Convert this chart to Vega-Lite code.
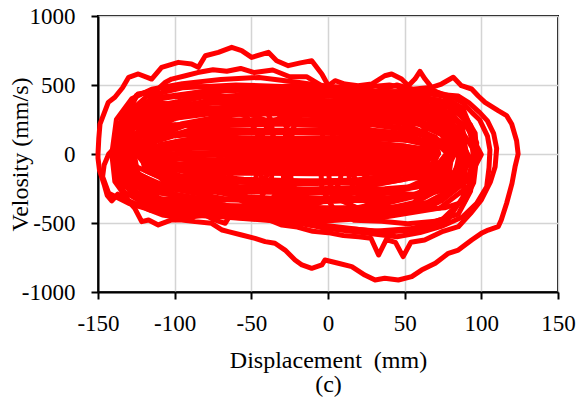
{
  "$schema": "https://vega.github.io/schema/vega-lite/v6.json",
  "width": 460,
  "height": 276,
  "autosize": {"type": "none"},
  "padding": {"left": 98, "top": 16, "right": 22, "bottom": 110},
  "background": "white",
  "config": {
    "view": {"stroke": "#000000", "strokeWidth": 2},
    "font": "Liberation Serif",
    "axis": {"labelFont": "Liberation Serif", "titleFont": "Liberation Serif"}
  },
  "data": {"values": [
    {"k":"O1","d":-150,"v":0},{"k":"O1","d":-149.5,"v":110},{"k":"O1","d":-148.7,"v":217},{"k":"O1","d":-143.3,"v":374},{"k":"O1","d":-139,"v":411},{"k":"O1","d":-134,"v":480},{"k":"O1","d":-130,"v":556},{"k":"O1","d":-123.7,"v":580},{"k":"O1","d":-115,"v":543},{"k":"O1","d":-108.5,"v":628},{"k":"O1","d":-97.6,"v":664},{"k":"O1","d":-89,"v":652},{"k":"O1","d":-84.6,"v":628},{"k":"O1","d":-80,"v":712},{"k":"O1","d":-71.5,"v":737},{"k":"O1","d":-62.8,"v":773},{"k":"O1","d":-56.3,"v":749},{"k":"O1","d":-49.8,"v":700},{"k":"O1","d":-38.9,"v":737},{"k":"O1","d":-33.5,"v":676},{"k":"O1","d":-25.9,"v":640},{"k":"O1","d":-18,"v":660},{"k":"O1","d":-10.6,"v":676},{"k":"O1","d":-4,"v":580},{"k":"O1","d":0.2,"v":495},{"k":"O1","d":4.6,"v":531},{"k":"O1","d":11,"v":507},{"k":"O1","d":19.6,"v":495},{"k":"O1","d":28.5,"v":507},{"k":"O1","d":37,"v":567},{"k":"O1","d":41.5,"v":580},{"k":"O1","d":48,"v":543},{"k":"O1","d":52.4,"v":495},{"k":"O1","d":56.7,"v":543},{"k":"O1","d":60,"v":599},{"k":"O1","d":63.3,"v":543},{"k":"O1","d":67.6,"v":483},{"k":"O1","d":74,"v":507},{"k":"O1","d":81.7,"v":556},{"k":"O1","d":87,"v":495},{"k":"O1","d":93.7,"v":471},{"k":"O1","d":98,"v":420},{"k":"O1","d":102.4,"v":374},{"k":"O1","d":111,"v":314},{"k":"O1","d":116.5,"v":278},{"k":"O1","d":119.8,"v":217},{"k":"O1","d":123,"v":96},{"k":"O1","d":124,"v":0},{"k":"O1","d":122,"v":-92},{"k":"O1","d":120,"v":-213},{"k":"O1","d":116.5,"v":-357},{"k":"O1","d":113,"v":-478},{"k":"O1","d":111,"v":-527},{"k":"O1","d":104.5,"v":-551},{"k":"O1","d":100,"v":-575},{"k":"O1","d":93.7,"v":-623},{"k":"O1","d":85,"v":-696},{"k":"O1","d":78.5,"v":-720},{"k":"O1","d":70,"v":-792},{"k":"O1","d":61,"v":-841},{"k":"O1","d":54.6,"v":-889},{"k":"O1","d":45.9,"v":-913},{"k":"O1","d":37,"v":-901},{"k":"O1","d":30.7,"v":-913},{"k":"O1","d":24,"v":-877},{"k":"O1","d":15.5,"v":-816},{"k":"O1","d":6.7,"v":-792},{"k":"O1","d":-2,"v":-768},{"k":"O1","d":-4,"v":-804},{"k":"O1","d":-10.6,"v":-828},{"k":"O1","d":-17,"v":-804},{"k":"O1","d":-21.5,"v":-768},{"k":"O1","d":-28,"v":-696},{"k":"O1","d":-34.6,"v":-647},{"k":"O1","d":-41,"v":-635},{"k":"O1","d":-47.6,"v":-611},{"k":"O1","d":-56.3,"v":-587},{"k":"O1","d":-65,"v":-563},{"k":"O1","d":-69,"v":-551},{"k":"O1","d":-75.9,"v":-502},{"k":"O1","d":-86.7,"v":-490},{"k":"O1","d":-95.4,"v":-478},{"k":"O1","d":-102,"v":-478},{"k":"O1","d":-110.7,"v":-514},{"k":"O1","d":-117,"v":-478},{"k":"O1","d":-121.5,"v":-490},{"k":"O1","d":-126,"v":-394},{"k":"O1","d":-131,"v":-330},{"k":"O1","d":-137,"v":-290},{"k":"O1","d":-141,"v":-340},{"k":"O1","d":-144,"v":-300},{"k":"O1","d":-146,"v":-220},{"k":"O1","d":-149,"v":-120},{"k":"O1","d":-150,"v":-30},{"k":"O1","d":-150,"v":0},

    {"k":"O2","d":-143,"v":0},{"k":"O2","d":-139,"v":48},{"k":"O2","d":-135,"v":200},{"k":"O2","d":-130,"v":314},{"k":"O2","d":-124,"v":435},{"k":"O2","d":-117,"v":447},{"k":"O2","d":-111,"v":471},{"k":"O2","d":-106,"v":520},{"k":"O2","d":-102,"v":543},{"k":"O2","d":-93,"v":567},{"k":"O2","d":-85,"v":590},{"k":"O2","d":-75,"v":610},{"k":"O2","d":-66,"v":600},{"k":"O2","d":-57,"v":620},{"k":"O2","d":-48,"v":590},{"k":"O2","d":-36,"v":609},{"k":"O2","d":-25,"v":560},{"k":"O2","d":-14,"v":560},{"k":"O2","d":-5,"v":500},{"k":"O2","d":5,"v":470},{"k":"O2","d":15,"v":440},{"k":"O2","d":25,"v":430},{"k":"O2","d":34,"v":464},{"k":"O2","d":45,"v":500},{"k":"O2","d":55,"v":470},{"k":"O2","d":65,"v":480},{"k":"O2","d":75,"v":430},{"k":"O2","d":85,"v":420},{"k":"O2","d":92,"v":370},{"k":"O2","d":99,"v":300},{"k":"O2","d":104,"v":240},{"k":"O2","d":108,"v":150},{"k":"O2","d":110,"v":40},{"k":"O2","d":109,"v":-92},{"k":"O2","d":106,"v":-200},{"k":"O2","d":100,"v":-333},{"k":"O2","d":93,"v":-430},{"k":"O2","d":85,"v":-527},{"k":"O2","d":75,"v":-560},{"k":"O2","d":63,"v":-623},{"k":"O2","d":54,"v":-640},{"k":"O2","d":49,"v":-744},{"k":"O2","d":44,"v":-640},{"k":"O2","d":38,"v":-620},{"k":"O2","d":33,"v":-732},{"k":"O2","d":28,"v":-610},{"k":"O2","d":20,"v":-600},{"k":"O2","d":10,"v":-590},{"k":"O2","d":0,"v":-570},{"k":"O2","d":-10,"v":-560},{"k":"O2","d":-20,"v":-530},{"k":"O2","d":-30,"v":-515},{"k":"O2","d":-40,"v":-470},{"k":"O2","d":-50,"v":-430},{"k":"O2","d":-58,"v":-394},{"k":"O2","d":-63,"v":-430},{"k":"O2","d":-67,"v":-502},{"k":"O2","d":-74,"v":-478},{"k":"O2","d":-80,"v":-442},{"k":"O2","d":-87,"v":-454},{"k":"O2","d":-100,"v":-454},{"k":"O2","d":-108,"v":-442},{"k":"O2","d":-119,"v":-394},{"k":"O2","d":-130,"v":-357},{"k":"O2","d":-143,"v":-285},{"k":"O2","d":-147,"v":-164},{"k":"O2","d":-146,"v":-80},{"k":"O2","d":-143,"v":0},

    {"k":"O3","d":-141,"v":0},{"k":"O3","d":-138,"v":250},{"k":"O3","d":-128,"v":400},{"k":"O3","d":-115,"v":470},{"k":"O3","d":-95,"v":510},{"k":"O3","d":-70,"v":540},{"k":"O3","d":-45,"v":555},{"k":"O3","d":-20,"v":520},{"k":"O3","d":0,"v":490},{"k":"O3","d":20,"v":480},{"k":"O3","d":40,"v":500},{"k":"O3","d":55,"v":470},{"k":"O3","d":70,"v":450},{"k":"O3","d":80,"v":420},{"k":"O3","d":88,"v":370},{"k":"O3","d":94,"v":300},{"k":"O3","d":99,"v":246},{"k":"O3","d":104,"v":130},{"k":"O3","d":105.6,"v":29},{"k":"O3","d":105,"v":-100},{"k":"O3","d":103.5,"v":-237},{"k":"O3","d":97,"v":-357},{"k":"O3","d":88,"v":-454},{"k":"O3","d":75,"v":-520},{"k":"O3","d":60,"v":-570},{"k":"O3","d":45,"v":-600},{"k":"O3","d":30,"v":-580},{"k":"O3","d":15,"v":-560},{"k":"O3","d":0,"v":-540},{"k":"O3","d":-20,"v":-500},{"k":"O3","d":-45,"v":-470},{"k":"O3","d":-70,"v":-440},{"k":"O3","d":-95,"v":-430},{"k":"O3","d":-115,"v":-410},{"k":"O3","d":-130,"v":-340},{"k":"O3","d":-139,"v":-200},{"k":"O3","d":-141,"v":0},

    {"k":"O4","d":-137,"v":0},{"k":"O4","d":-132,"v":280},{"k":"O4","d":-118,"v":420},{"k":"O4","d":-95,"v":480},{"k":"O4","d":-60,"v":500},{"k":"O4","d":-30,"v":490},{"k":"O4","d":0,"v":470},{"k":"O4","d":30,"v":450},{"k":"O4","d":55,"v":455},{"k":"O4","d":75,"v":420},{"k":"O4","d":88,"v":330},{"k":"O4","d":97,"v":80},{"k":"O4","d":94.8,"v":-164},{"k":"O4","d":88,"v":-330},{"k":"O4","d":75,"v":-470},{"k":"O4","d":55,"v":-540},{"k":"O4","d":30,"v":-560},{"k":"O4","d":0,"v":-520},{"k":"O4","d":-30,"v":-480},{"k":"O4","d":-60,"v":-460},{"k":"O4","d":-95,"v":-440},{"k":"O4","d":-120,"v":-380},{"k":"O4","d":-133,"v":-220},{"k":"O4","d":-137,"v":0},

    {"k":"A1","d":-139,"v":5},{"k":"A1","d":-133,"v":240},{"k":"A1","d":-115,"v":402},{"k":"A1","d":-80,"v":455},{"k":"A1","d":-39,"v":475},{"k":"A1","d":3,"v":458},{"k":"A1","d":44,"v":450},{"k":"A1","d":76,"v":380},{"k":"A1","d":93,"v":210},{"k":"A1","d":97,"v":0},{"k":"A1","d":92,"v":-230},{"k":"A1","d":73,"v":-392},{"k":"A1","d":38,"v":-455},{"k":"A1","d":-3,"v":-462},{"k":"A1","d":-45,"v":-448},{"k":"A1","d":-86,"v":-440},{"k":"A1","d":-118,"v":-365},{"k":"A1","d":-135,"v":-200},{"k":"A1","d":-139,"v":5},

    {"k":"A2","d":-136,"v":-10},{"k":"A2","d":-131,"v":212},{"k":"A2","d":-112,"v":350},{"k":"A2","d":-79,"v":418},{"k":"A2","d":-42,"v":415},{"k":"A2","d":-1,"v":420},{"k":"A2","d":38,"v":392},{"k":"A2","d":69,"v":338},{"k":"A2","d":85,"v":178},{"k":"A2","d":89,"v":-15},{"k":"A2","d":83,"v":-220},{"k":"A2","d":66,"v":-380},{"k":"A2","d":31,"v":-428},{"k":"A2","d":-7,"v":-446},{"k":"A2","d":-47,"v":-425},{"k":"A2","d":-85,"v":-424},{"k":"A2","d":-117,"v":-350},{"k":"A2","d":-132,"v":-208},{"k":"A2","d":-136,"v":-10},

    {"k":"A3","d":-132,"v":0},{"k":"A3","d":-127,"v":190},{"k":"A3","d":-108,"v":340},{"k":"A3","d":-76,"v":380},{"k":"A3","d":-34,"v":402},{"k":"A3","d":5,"v":384},{"k":"A3","d":45,"v":380},{"k":"A3","d":76,"v":310},{"k":"A3","d":92,"v":185},{"k":"A3","d":96,"v":5},{"k":"A3","d":91,"v":-190},{"k":"A3","d":74,"v":-340},{"k":"A3","d":38,"v":-392},{"k":"A3","d":-1,"v":-390},{"k":"A3","d":-41,"v":-383},{"k":"A3","d":-80,"v":-370},{"k":"A3","d":-112,"v":-320},{"k":"A3","d":-129,"v":-170},{"k":"A3","d":-132,"v":0},

    {"k":"A4","d":-135,"v":15},{"k":"A4","d":-130,"v":200},{"k":"A4","d":-113,"v":318},{"k":"A4","d":-80,"v":372},{"k":"A4","d":-44,"v":370},{"k":"A4","d":-5,"v":376},{"k":"A4","d":33,"v":350},{"k":"A4","d":62,"v":306},{"k":"A4","d":78,"v":170},{"k":"A4","d":82,"v":20},{"k":"A4","d":77,"v":-160},{"k":"A4","d":60,"v":-295},{"k":"A4","d":26,"v":-332},{"k":"A4","d":-11,"v":-350},{"k":"A4","d":-49,"v":-335},{"k":"A4","d":-86,"v":-330},{"k":"A4","d":-116,"v":-268},{"k":"A4","d":-132,"v":-150},{"k":"A4","d":-135,"v":15},

    {"k":"A5","d":-130,"v":-15},{"k":"A5","d":-125,"v":150},{"k":"A5","d":-107,"v":258},{"k":"A5","d":-76,"v":308},{"k":"A5","d":-36,"v":306},{"k":"A5","d":2,"v":310},{"k":"A5","d":41,"v":290},{"k":"A5","d":71,"v":248},{"k":"A5","d":87,"v":128},{"k":"A5","d":91,"v":-18},{"k":"A5","d":86,"v":-180},{"k":"A5","d":67,"v":-288},{"k":"A5","d":35,"v":-338},{"k":"A5","d":-4,"v":-336},{"k":"A5","d":-42,"v":-330},{"k":"A5","d":-81,"v":-328},{"k":"A5","d":-110,"v":-272},{"k":"A5","d":-127,"v":-165},{"k":"A5","d":-130,"v":-15},

    {"k":"A6","d":-129,"v":5},{"k":"A6","d":-124,"v":152},{"k":"A6","d":-108,"v":248},{"k":"A6","d":-77,"v":292},{"k":"A6","d":-40,"v":290},{"k":"A6","d":-4,"v":294},{"k":"A6","d":32,"v":278},{"k":"A6","d":60,"v":240},{"k":"A6","d":76,"v":130},{"k":"A6","d":79,"v":8},{"k":"A6","d":75,"v":-142},{"k":"A6","d":58,"v":-238},{"k":"A6","d":27,"v":-282},{"k":"A6","d":-10,"v":-282},{"k":"A6","d":-46,"v":-276},{"k":"A6","d":-82,"v":-272},{"k":"A6","d":-110,"v":-224},{"k":"A6","d":-126,"v":-128},{"k":"A6","d":-129,"v":5},

    {"k":"A7","d":-122,"v":-5},{"k":"A7","d":-117,"v":125},{"k":"A7","d":-100,"v":208},{"k":"A7","d":-69,"v":248},{"k":"A7","d":-32,"v":246},{"k":"A7","d":5,"v":250},{"k":"A7","d":42,"v":235},{"k":"A7","d":71,"v":202},{"k":"A7","d":87,"v":106},{"k":"A7","d":90,"v":-8},{"k":"A7","d":86,"v":-130},{"k":"A7","d":69,"v":-225},{"k":"A7","d":37,"v":-252},{"k":"A7","d":0,"v":-262},{"k":"A7","d":-37,"v":-250},{"k":"A7","d":-74,"v":-250},{"k":"A7","d":-103,"v":-205},{"k":"A7","d":-119,"v":-122},{"k":"A7","d":-122,"v":-5},

    {"k":"A8","d":-128,"v":10},{"k":"A8","d":-123,"v":118},{"k":"A8","d":-108,"v":200},{"k":"A8","d":-77,"v":222},{"k":"A8","d":-43,"v":232},{"k":"A8","d":-8,"v":224},{"k":"A8","d":27,"v":220},{"k":"A8","d":54,"v":183},{"k":"A8","d":69,"v":112},{"k":"A8","d":72,"v":8},{"k":"A8","d":68,"v":-102},{"k":"A8","d":52,"v":-175},{"k":"A8","d":22,"v":-208},{"k":"A8","d":-13,"v":-208},{"k":"A8","d":-48,"v":-204},{"k":"A8","d":-83,"v":-200},{"k":"A8","d":-110,"v":-164},{"k":"A8","d":-125,"v":-92},{"k":"A8","d":-128,"v":10},

    {"k":"A9","d":-122,"v":-10},{"k":"A9","d":-117,"v":85},{"k":"A9","d":-101,"v":145},{"k":"A9","d":-71,"v":174},{"k":"A9","d":-35,"v":172},{"k":"A9","d":0,"v":176},{"k":"A9","d":36,"v":164},{"k":"A9","d":64,"v":140},{"k":"A9","d":79,"v":70},{"k":"A9","d":82,"v":-12},{"k":"A9","d":78,"v":-100},{"k":"A9","d":62,"v":-170},{"k":"A9","d":31,"v":-190},{"k":"A9","d":-5,"v":-197},{"k":"A9","d":-40,"v":-188},{"k":"A9","d":-76,"v":-188},{"k":"A9","d":-104,"v":-155},{"k":"A9","d":-119,"v":-95},{"k":"A9","d":-122,"v":-10},

    {"k":"A10","d":-120,"v":5},{"k":"A10","d":-115,"v":82},{"k":"A10","d":-101,"v":130},{"k":"A10","d":-72,"v":155},{"k":"A10","d":-38,"v":152},{"k":"A10","d":-5,"v":156},{"k":"A10","d":29,"v":145},{"k":"A10","d":55,"v":127},{"k":"A10","d":69,"v":70},{"k":"A10","d":72,"v":3},{"k":"A10","d":68,"v":-72},{"k":"A10","d":53,"v":-120},{"k":"A10","d":24,"v":-144},{"k":"A10","d":-10,"v":-143},{"k":"A10","d":-43,"v":-140},{"k":"A10","d":-77,"v":-140},{"k":"A10","d":-103,"v":-112},{"k":"A10","d":-117,"v":-64},{"k":"A10","d":-120,"v":5},

    {"k":"A11","d":-116,"v":0},{"k":"A11","d":-111,"v":60},{"k":"A11","d":-96,"v":95},{"k":"A11","d":-67,"v":115},{"k":"A11","d":-33,"v":112},{"k":"A11","d":2,"v":117},{"k":"A11","d":36,"v":106},{"k":"A11","d":62,"v":94},{"k":"A11","d":77,"v":50},{"k":"A11","d":80,"v":-3},{"k":"A11","d":76,"v":-58},{"k":"A11","d":60,"v":-96},{"k":"A11","d":31,"v":-114},{"k":"A11","d":-3,"v":-113},{"k":"A11","d":-38,"v":-110},{"k":"A11","d":-72,"v":-112},{"k":"A11","d":-98,"v":-90},{"k":"A11","d":-113,"v":-54},{"k":"A11","d":-116,"v":0},

    {"k":"A12","d":-118,"v":-5},{"k":"A12","d":-113,"v":36},{"k":"A12","d":-100,"v":62},{"k":"A12","d":-72,"v":75},{"k":"A12","d":-40,"v":73},{"k":"A12","d":-8,"v":76},{"k":"A12","d":25,"v":70},{"k":"A12","d":49,"v":60},{"k":"A12","d":63,"v":30},{"k":"A12","d":66,"v":-6},{"k":"A12","d":62,"v":-44},{"k":"A12","d":48,"v":-74},{"k":"A12","d":20,"v":-82},{"k":"A12","d":-12,"v":-86},{"k":"A12","d":-44,"v":-82},{"k":"A12","d":-77,"v":-80},{"k":"A12","d":-101,"v":-70},{"k":"A12","d":-115,"v":-40},{"k":"A12","d":-118,"v":-5},

    {"k":"A13","d":-116,"v":0},{"k":"A13","d":-111,"v":24},{"k":"A13","d":-97,"v":38},{"k":"A13","d":-69,"v":46},{"k":"A13","d":-36,"v":44},{"k":"A13","d":-3,"v":46},{"k":"A13","d":30,"v":42},{"k":"A13","d":55,"v":37},{"k":"A13","d":69,"v":20},{"k":"A13","d":72,"v":0},{"k":"A13","d":68,"v":-22},{"k":"A13","d":53,"v":-40},{"k":"A13","d":25,"v":-44},{"k":"A13","d":-8,"v":-46},{"k":"A13","d":-41,"v":-44},{"k":"A13","d":-74,"v":-42},{"k":"A13","d":-99,"v":-35},{"k":"A13","d":-113,"v":-20},{"k":"A13","d":-116,"v":0},

    {"k":"B1","d":-138,"v":0},{"k":"B1","d":-131,"v":195},{"k":"B1","d":-105,"v":350},{"k":"B1","d":-66,"v":465},{"k":"B1","d":-20,"v":496},{"k":"B1","d":26,"v":460},{"k":"B1","d":65,"v":356},{"k":"B1","d":91,"v":188},{"k":"B1","d":100,"v":-4},{"k":"B1","d":91,"v":-195},{"k":"B1","d":65,"v":-350},{"k":"B1","d":26,"v":-465},{"k":"B1","d":-20,"v":-498},{"k":"B1","d":-66,"v":-458},{"k":"B1","d":-105,"v":-356},{"k":"B1","d":-131,"v":-188},{"k":"B1","d":-138,"v":0},

    {"k":"B2","d":-138,"v":-15},{"k":"B2","d":-131,"v":166},{"k":"B2","d":-106,"v":310},{"k":"B2","d":-68,"v":418},{"k":"B2","d":-24,"v":448},{"k":"B2","d":20,"v":412},{"k":"B2","d":58,"v":318},{"k":"B2","d":83,"v":160},{"k":"B2","d":92,"v":-18},{"k":"B2","d":83,"v":-190},{"k":"B2","d":58,"v":-347},{"k":"B2","d":20,"v":-442},{"k":"B2","d":-24,"v":-482},{"k":"B2","d":-68,"v":-440},{"k":"B2","d":-106,"v":-348},{"k":"B2","d":-131,"v":-196},{"k":"B2","d":-138,"v":-15},

    {"k":"B3","d":-132,"v":10},{"k":"B3","d":-123,"v":178},{"k":"B3","d":-99,"v":310},{"k":"B3","d":-62,"v":410},{"k":"B3","d":-18,"v":437},{"k":"B3","d":26,"v":404},{"k":"B3","d":63,"v":318},{"k":"B3","d":87,"v":172},{"k":"B3","d":96,"v":12},{"k":"B3","d":87,"v":-158},{"k":"B3","d":63,"v":-290},{"k":"B3","d":26,"v":-390},{"k":"B3","d":-18,"v":-418},{"k":"B3","d":-62,"v":-384},{"k":"B3","d":-99,"v":-297},{"k":"B3","d":-123,"v":-150},{"k":"B3","d":-132,"v":10},

    {"k":"B4","d":-132,"v":-20},{"k":"B4","d":-124,"v":134},{"k":"B4","d":-100,"v":256},{"k":"B4","d":-64,"v":348},{"k":"B4","d":-22,"v":372},{"k":"B4","d":20,"v":342},{"k":"B4","d":56,"v":262},{"k":"B4","d":80,"v":128},{"k":"B4","d":88,"v":-22},{"k":"B4","d":80,"v":-174},{"k":"B4","d":56,"v":-296},{"k":"B4","d":20,"v":-388},{"k":"B4","d":-22,"v":-412},{"k":"B4","d":-64,"v":-382},{"k":"B4","d":-100,"v":-302},{"k":"B4","d":-124,"v":-168},{"k":"B4","d":-132,"v":-20},

    {"k":"B5","d":-134,"v":5},{"k":"B5","d":-126,"v":146},{"k":"B5","d":-102,"v":256},{"k":"B5","d":-67,"v":340},{"k":"B5","d":-26,"v":362},{"k":"B5","d":15,"v":335},{"k":"B5","d":50,"v":262},{"k":"B5","d":74,"v":140},{"k":"B5","d":82,"v":2},{"k":"B5","d":74,"v":-130},{"k":"B5","d":50,"v":-252},{"k":"B5","d":15,"v":-330},{"k":"B5","d":-26,"v":-352},{"k":"B5","d":-67,"v":-325},{"k":"B5","d":-102,"v":-252},{"k":"B5","d":-126,"v":-136},{"k":"B5","d":-134,"v":5},

    {"k":"B6","d":-122,"v":-10},{"k":"B6","d":-114,"v":117},{"k":"B6","d":-91,"v":216},{"k":"B6","d":-57,"v":293},{"k":"B6","d":-16,"v":312},{"k":"B6","d":25,"v":288},{"k":"B6","d":59,"v":222},{"k":"B6","d":82,"v":112},{"k":"B6","d":90,"v":-12},{"k":"B6","d":82,"v":-137},{"k":"B6","d":59,"v":-236},{"k":"B6","d":25,"v":-313},{"k":"B6","d":-16,"v":-332},{"k":"B6","d":-57,"v":-308},{"k":"B6","d":-91,"v":-242},{"k":"B6","d":-114,"v":-131},{"k":"B6","d":-122,"v":-10},

    {"k":"B7","d":-126,"v":15},{"k":"B7","d":-118,"v":129},{"k":"B7","d":-96,"v":217},{"k":"B7","d":-63,"v":286},{"k":"B7","d":-24,"v":302},{"k":"B7","d":15,"v":280},{"k":"B7","d":48,"v":223},{"k":"B7","d":70,"v":123},{"k":"B7","d":78,"v":13},{"k":"B7","d":70,"v":-99},{"k":"B7","d":48,"v":-187},{"k":"B7","d":15,"v":-256},{"k":"B7","d":-24,"v":-272},{"k":"B7","d":-63,"v":-250},{"k":"B7","d":-96,"v":-193},{"k":"B7","d":-118,"v":-93},{"k":"B7","d":-126,"v":15},

    {"k":"B8","d":-120,"v":-5},{"k":"B8","d":-112,"v":95},{"k":"B8","d":-91,"v":172},{"k":"B8","d":-58,"v":233},{"k":"B8","d":-20,"v":248},{"k":"B8","d":18,"v":228},{"k":"B8","d":51,"v":178},{"k":"B8","d":72,"v":90},{"k":"B8","d":80,"v":-7},{"k":"B8","d":72,"v":-105},{"k":"B8","d":51,"v":-182},{"k":"B8","d":18,"v":-243},{"k":"B8","d":-20,"v":-258},{"k":"B8","d":-58,"v":-238},{"k":"B8","d":-91,"v":-188},{"k":"B8","d":-112,"v":-100},{"k":"B8","d":-120,"v":-5},

    {"k":"B9","d":-124,"v":0},{"k":"B9","d":-117,"v":87},{"k":"B9","d":-96,"v":152},{"k":"B9","d":-65,"v":206},{"k":"B9","d":-28,"v":218},{"k":"B9","d":9,"v":200},{"k":"B9","d":40,"v":158},{"k":"B9","d":61,"v":82},{"k":"B9","d":68,"v":-2},{"k":"B9","d":61,"v":-87},{"k":"B9","d":40,"v":-152},{"k":"B9","d":9,"v":-206},{"k":"B9","d":-28,"v":-222},{"k":"B9","d":-65,"v":-200},{"k":"B9","d":-96,"v":-158},{"k":"B9","d":-117,"v":-81},{"k":"B9","d":-124,"v":0},

    {"k":"B10","d":-116,"v":-15},{"k":"B10","d":-109,"v":58},{"k":"B10","d":-87,"v":113},{"k":"B10","d":-55,"v":158},{"k":"B10","d":-18,"v":168},{"k":"B10","d":20,"v":153},{"k":"B10","d":51,"v":118},{"k":"B10","d":73,"v":53},{"k":"B10","d":80,"v":-17},{"k":"B10","d":73,"v":-88},{"k":"B10","d":51,"v":-143},{"k":"B10","d":20,"v":-188},{"k":"B10","d":-18,"v":-198},{"k":"B10","d":-55,"v":-183},{"k":"B10","d":-87,"v":-148},{"k":"B10","d":-109,"v":-83},{"k":"B10","d":-116,"v":-15},

    {"k":"B11","d":-116,"v":10},{"k":"B11","d":-109,"v":70},{"k":"B11","d":-88,"v":113},{"k":"B11","d":-58,"v":151},{"k":"B11","d":-22,"v":158},{"k":"B11","d":14,"v":146},{"k":"B11","d":44,"v":118},{"k":"B11","d":65,"v":65},{"k":"B11","d":72,"v":8},{"k":"B11","d":65,"v":-50},{"k":"B11","d":44,"v":-94},{"k":"B11","d":14,"v":-131},{"k":"B11","d":-22,"v":-138},{"k":"B11","d":-58,"v":-126},{"k":"B11","d":-88,"v":-98},{"k":"B11","d":-109,"v":-45},{"k":"B11","d":-116,"v":10},

    {"k":"B12","d":-115,"v":-10},{"k":"B12","d":-108,"v":36},{"k":"B12","d":-89,"v":69},{"k":"B12","d":-60,"v":98},{"k":"B12","d":-25,"v":103},{"k":"B12","d":10,"v":94},{"k":"B12","d":39,"v":73},{"k":"B12","d":58,"v":32},{"k":"B12","d":65,"v":-12},{"k":"B12","d":58,"v":-56},{"k":"B12","d":39,"v":-89},{"k":"B12","d":10,"v":-118},{"k":"B12","d":-25,"v":-123},{"k":"B12","d":-60,"v":-114},{"k":"B12","d":-89,"v":-93},{"k":"B12","d":-108,"v":-51},{"k":"B12","d":-115,"v":-10},

    {"k":"B13","d":-112,"v":5},{"k":"B13","d":-105,"v":37},{"k":"B13","d":-85,"v":60},{"k":"B13","d":-55,"v":80},{"k":"B13","d":-20,"v":83},{"k":"B13","d":15,"v":77},{"k":"B13","d":45,"v":63},{"k":"B13","d":65,"v":34},{"k":"B13","d":72,"v":3},{"k":"B13","d":65,"v":-27},{"k":"B13","d":45,"v":-50},{"k":"B13","d":15,"v":-70},{"k":"B13","d":-20,"v":-73},{"k":"B13","d":-55,"v":-67},{"k":"B13","d":-85,"v":-53},{"k":"B13","d":-105,"v":-24},{"k":"B13","d":-112,"v":5},

    {"k":"C0","d":-110,"v":0},{"k":"C0","d":-60,"v":16},{"k":"C0","d":0,"v":14},{"k":"C0","d":60,"v":12},{"k":"C0","d":70,"v":0},{"k":"C0","d":60,"v":-14},{"k":"C0","d":0,"v":-16},{"k":"C0","d":-60,"v":-12},{"k":"C0","d":-110,"v":0},

    {"k":"D1","d":-134,"v":20},{"k":"D1","d":-128,"v":245},{"k":"D1","d":-112,"v":395},{"k":"D1","d":-78,"v":458},{"k":"D1","d":-39,"v":462},{"k":"D1","d":0,"v":452},{"k":"D1","d":40,"v":445},{"k":"D1","d":70,"v":372},{"k":"D1","d":87,"v":222},{"k":"D1","d":90,"v":18},{"k":"D1","d":86,"v":-205},{"k":"D1","d":68,"v":-355},{"k":"D1","d":34,"v":-418},{"k":"D1","d":-5,"v":-428},{"k":"D1","d":-44,"v":-412},{"k":"D1","d":-84,"v":-405},{"k":"D1","d":-114,"v":-332},{"k":"D1","d":-131,"v":-178},{"k":"D1","d":-134,"v":20},

    {"k":"D2","d":-126,"v":-25},{"k":"D2","d":-121,"v":182},{"k":"D2","d":-104,"v":320},{"k":"D2","d":-72,"v":380},{"k":"D2","d":-34,"v":383},{"k":"D2","d":4,"v":374},{"k":"D2","d":41,"v":366},{"k":"D2","d":71,"v":300},{"k":"D2","d":87,"v":162},{"k":"D2","d":90,"v":-28},{"k":"D2","d":86,"v":-228},{"k":"D2","d":68,"v":-376},{"k":"D2","d":36,"v":-425},{"k":"D2","d":-2,"v":-438},{"k":"D2","d":-40,"v":-425},{"k":"D2","d":-77,"v":-416},{"k":"D2","d":-107,"v":-350},{"k":"D2","d":-123,"v":-212},{"k":"D2","d":-126,"v":-25},

    {"k":"D3","d":-134,"v":0},{"k":"D3","d":-128,"v":172},{"k":"D3","d":-112,"v":286},{"k":"D3","d":-79,"v":336},{"k":"D3","d":-40,"v":338},{"k":"D3","d":-2,"v":330},{"k":"D3","d":36,"v":326},{"k":"D3","d":66,"v":270},{"k":"D3","d":83,"v":150},{"k":"D3","d":86,"v":-2},{"k":"D3","d":82,"v":-168},{"k":"D3","d":64,"v":-292},{"k":"D3","d":31,"v":-330},{"k":"D3","d":-8,"v":-342},{"k":"D3","d":-46,"v":-335},{"k":"D3","d":-84,"v":-320},{"k":"D3","d":-114,"v":-275},{"k":"D3","d":-131,"v":-150},{"k":"D3","d":-134,"v":0},

    {"k":"D4","d":13,"v":-20},{"k":"D4","d":15,"v":172},{"k":"D4","d":21,"v":300},{"k":"D4","d":34,"v":355},{"k":"D4","d":49,"v":362},{"k":"D4","d":63,"v":350},{"k":"D4","d":78,"v":343},{"k":"D4","d":89,"v":282},{"k":"D4","d":96,"v":150},{"k":"D4","d":97,"v":-22},{"k":"D4","d":95,"v":-208},{"k":"D4","d":89,"v":-345},{"k":"D4","d":76,"v":-390},{"k":"D4","d":61,"v":-402},{"k":"D4","d":47,"v":-390},{"k":"D4","d":32,"v":-383},{"k":"D4","d":21,"v":-322},{"k":"D4","d":14,"v":-190},{"k":"D4","d":13,"v":-20},

    {"k":"D5","d":-139,"v":10},{"k":"D5","d":-137,"v":192},{"k":"D5","d":-132,"v":314},{"k":"D5","d":-122,"v":366},{"k":"D5","d":-110,"v":368},{"k":"D5","d":-98,"v":360},{"k":"D5","d":-86,"v":354},{"k":"D5","d":-77,"v":296},{"k":"D5","d":-72,"v":170},{"k":"D5","d":-71,"v":8},{"k":"D5","d":-72,"v":-168},{"k":"D5","d":-78,"v":-298},{"k":"D5","d":-88,"v":-340},{"k":"D5","d":-100,"v":-352},{"k":"D5","d":-112,"v":-345},{"k":"D5","d":-124,"v":-330},{"k":"D5","d":-133,"v":-276},{"k":"D5","d":-138,"v":-150},{"k":"D5","d":-139,"v":10},

    {"k":"P0","d":-135,"v":40},{"k":"P0","d":-132,"v":262},{"k":"P0","d":-125,"v":425},{"k":"P0","d":-110,"v":478},{"k":"P0","d":-92,"v":492},{"k":"P0","d":-75,"v":484},{"k":"P0","d":-58,"v":465},{"k":"P0","d":-44,"v":402},{"k":"P0","d":-37,"v":240},{"k":"P0","d":-35,"v":38},{"k":"P0","d":-37,"v":-188},{"k":"P0","d":-45,"v":-340},{"k":"P0","d":-60,"v":-398},{"k":"P0","d":-78,"v":-412},{"k":"P0","d":-95,"v":-398},{"k":"P0","d":-113,"v":-390},{"k":"P0","d":-126,"v":-318},{"k":"P0","d":-134,"v":-160},{"k":"P0","d":-135,"v":40},

    {"k":"P1","d":-135,"v":20},{"k":"P1","d":-132,"v":225},{"k":"P1","d":-124,"v":355},{"k":"P1","d":-107,"v":415},{"k":"P1","d":-88,"v":418},{"k":"P1","d":-69,"v":420},{"k":"P1","d":-50,"v":396},{"k":"P1","d":-35,"v":342},{"k":"P1","d":-27,"v":195},{"k":"P1","d":-25,"v":15},{"k":"P1","d":-27,"v":-182},{"k":"P1","d":-36,"v":-318},{"k":"P1","d":-52,"v":-375},{"k":"P1","d":-72,"v":-378},{"k":"P1","d":-91,"v":-368},{"k":"P1","d":-110,"v":-362},{"k":"P1","d":-125,"v":-298},{"k":"P1","d":-133,"v":-158},{"k":"P1","d":-135,"v":20},

    {"k":"P2","d":-135,"v":0},{"k":"P2","d":-133,"v":168},{"k":"P2","d":-126,"v":292},{"k":"P2","d":-112,"v":330},{"k":"P2","d":-97,"v":344},{"k":"P2","d":-81,"v":330},{"k":"P2","d":-65,"v":326},{"k":"P2","d":-53,"v":270},{"k":"P2","d":-46,"v":150},{"k":"P2","d":-45,"v":-3},{"k":"P2","d":-47,"v":-172},{"k":"P2","d":-54,"v":-286},{"k":"P2","d":-68,"v":-336},{"k":"P2","d":-83,"v":-338},{"k":"P2","d":-99,"v":-330},{"k":"P2","d":-115,"v":-325},{"k":"P2","d":-127,"v":-270},{"k":"P2","d":-134,"v":-150},{"k":"P2","d":-135,"v":0},

    {"k":"P3","d":-115,"v":30},{"k":"P3","d":-113,"v":172},{"k":"P3","d":-107,"v":265},{"k":"P3","d":-95,"v":306},{"k":"P3","d":-81,"v":312},{"k":"P3","d":-67,"v":300},{"k":"P3","d":-53,"v":298},{"k":"P3","d":-42,"v":250},{"k":"P3","d":-36,"v":158},{"k":"P3","d":-35,"v":28},{"k":"P3","d":-37,"v":-108},{"k":"P3","d":-43,"v":-210},{"k":"P3","d":-55,"v":-242},{"k":"P3","d":-69,"v":-252},{"k":"P3","d":-83,"v":-240},{"k":"P3","d":-97,"v":-238},{"k":"P3","d":-108,"v":-190},{"k":"P3","d":-114,"v":-98},{"k":"P3","d":-115,"v":30},

    {"k":"P4","d":-130,"v":-10},{"k":"P4","d":-128,"v":102},{"k":"P4","d":-123,"v":175},{"k":"P4","d":-112,"v":208},{"k":"P4","d":-100,"v":212},{"k":"P4","d":-88,"v":204},{"k":"P4","d":-76,"v":200},{"k":"P4","d":-66,"v":165},{"k":"P4","d":-61,"v":86},{"k":"P4","d":-60,"v":-12},{"k":"P4","d":-61,"v":-118},{"k":"P4","d":-67,"v":-198},{"k":"P4","d":-78,"v":-224},{"k":"P4","d":-90,"v":-232},{"k":"P4","d":-102,"v":-224},{"k":"P4","d":-114,"v":-220},{"k":"P4","d":-124,"v":-183},{"k":"P4","d":-129,"v":-110},{"k":"P4","d":-130,"v":-10},

    {"k":"R0","d":-30,"v":-60},{"k":"R0","d":-27,"v":192},{"k":"R0","d":-18,"v":362},{"k":"R0","d":0,"v":432},{"k":"R0","d":21,"v":444},{"k":"R0","d":42,"v":428},{"k":"R0","d":63,"v":418},{"k":"R0","d":79,"v":336},{"k":"R0","d":88,"v":168},{"k":"R0","d":90,"v":-55},{"k":"R0","d":88,"v":-312},{"k":"R0","d":78,"v":-480},{"k":"R0","d":60,"v":-548},{"k":"R0","d":39,"v":-566},{"k":"R0","d":18,"v":-545},{"k":"R0","d":-3,"v":-538},{"k":"R0","d":-19,"v":-458},{"k":"R0","d":-28,"v":-282},{"k":"R0","d":-30,"v":-60},

    {"k":"R1","d":-5,"v":-40},{"k":"R1","d":-3,"v":195},{"k":"R1","d":5,"v":348},{"k":"R1","d":20,"v":414},{"k":"R1","d":38,"v":418},{"k":"R1","d":55,"v":414},{"k":"R1","d":72,"v":392},{"k":"R1","d":86,"v":330},{"k":"R1","d":93,"v":165},{"k":"R1","d":95,"v":-42},{"k":"R1","d":93,"v":-268},{"k":"R1","d":85,"v":-435},{"k":"R1","d":70,"v":-488},{"k":"R1","d":52,"v":-505},{"k":"R1","d":35,"v":-488},{"k":"R1","d":17,"v":-480},{"k":"R1","d":4,"v":-405},{"k":"R1","d":-4,"v":-250},{"k":"R1","d":-5,"v":-40},

    {"k":"R2","d":-25,"v":-20},{"k":"R2","d":-23,"v":182},{"k":"R2","d":-16,"v":318},{"k":"R2","d":-3,"v":375},{"k":"R2","d":13,"v":382},{"k":"R2","d":29,"v":370},{"k":"R2","d":45,"v":362},{"k":"R2","d":57,"v":298},{"k":"R2","d":64,"v":158},{"k":"R2","d":65,"v":-22},{"k":"R2","d":63,"v":-218},{"k":"R2","d":56,"v":-362},{"k":"R2","d":42,"v":-410},{"k":"R2","d":27,"v":-424},{"k":"R2","d":11,"v":-410},{"k":"R2","d":-5,"v":-402},{"k":"R2","d":-17,"v":-338},{"k":"R2","d":-24,"v":-202},{"k":"R2","d":-25,"v":-20},

    {"k":"R3","d":0,"v":-60},{"k":"R3","d":2,"v":112},{"k":"R3","d":8,"v":226},{"k":"R3","d":20,"v":276},{"k":"R3","d":34,"v":282},{"k":"R3","d":48,"v":270},{"k":"R3","d":62,"v":265},{"k":"R3","d":73,"v":210},{"k":"R3","d":79,"v":90},{"k":"R3","d":80,"v":-62},{"k":"R3","d":78,"v":-228},{"k":"R3","d":72,"v":-350},{"k":"R3","d":60,"v":-390},{"k":"R3","d":46,"v":-402},{"k":"R3","d":32,"v":-392},{"k":"R3","d":18,"v":-385},{"k":"R3","d":7,"v":-330},{"k":"R3","d":1,"v":-215},{"k":"R3","d":0,"v":-60},

    {"k":"R4","d":15,"v":-30},{"k":"R4","d":17,"v":102},{"k":"R4","d":22,"v":188},{"k":"R4","d":32,"v":228},{"k":"R4","d":45,"v":232},{"k":"R4","d":57,"v":222},{"k":"R4","d":69,"v":218},{"k":"R4","d":79,"v":176},{"k":"R4","d":84,"v":85},{"k":"R4","d":85,"v":-32},{"k":"R4","d":84,"v":-158},{"k":"R4","d":78,"v":-254},{"k":"R4","d":68,"v":-282},{"k":"R4","d":55,"v":-292},{"k":"R4","d":43,"v":-284},{"k":"R4","d":31,"v":-280},{"k":"R4","d":21,"v":-236},{"k":"R4","d":16,"v":-148},{"k":"R4","d":15,"v":-30},

    {"k":"M1","d":-70,"v":0},{"k":"M1","d":-68,"v":188},{"k":"M1","d":-62,"v":325},{"k":"M1","d":-50,"v":370},{"k":"M1","d":-36,"v":384},{"k":"M1","d":-22,"v":370},{"k":"M1","d":-8,"v":364},{"k":"M1","d":3,"v":302},{"k":"M1","d":9,"v":168},{"k":"M1","d":10,"v":-3},{"k":"M1","d":8,"v":-192},{"k":"M1","d":2,"v":-320},{"k":"M1","d":-10,"v":-375},{"k":"M1","d":-24,"v":-378},{"k":"M1","d":-38,"v":-370},{"k":"M1","d":-52,"v":-364},{"k":"M1","d":-63,"v":-300},{"k":"M1","d":-69,"v":-172},{"k":"M1","d":-70,"v":0},

    {"k":"M2","d":-45,"v":-20},{"k":"M2","d":-43,"v":132},{"k":"M2","d":-38,"v":232},{"k":"M2","d":-27,"v":276},{"k":"M2","d":-15,"v":282},{"k":"M2","d":-3,"v":272},{"k":"M2","d":9,"v":266},{"k":"M2","d":19,"v":218},{"k":"M2","d":24,"v":112},{"k":"M2","d":25,"v":-22},{"k":"M2","d":24,"v":-168},{"k":"M2","d":18,"v":-276},{"k":"M2","d":8,"v":-312},{"k":"M2","d":-5,"v":-322},{"k":"M2","d":-17,"v":-312},{"k":"M2","d":-29,"v":-306},{"k":"M2","d":-39,"v":-258},{"k":"M2","d":-44,"v":-152},{"k":"M2","d":-45,"v":-20}
  ]},
  "mark": {"type": "line", "color": "#ff0000", "strokeWidth": 5, "strokeJoin": "round", "strokeCap": "round"},
  "encoding": {
    "x": {
      "field": "d", "type": "quantitative",
      "scale": {"domain": [-150, 150], "nice": false, "zero": false},
      "axis": {
        "values": [-150, -100, -50, 0, 50, 100, 150],
        "grid": true, "gridColor": "#d4d4d4", "gridWidth": 1.5,
        "domainColor": "#000000", "domainWidth": 2,
        "tickColor": "#000000", "tickWidth": 2, "tickSize": 7,
        "labelFont": "Liberation Serif", "labelFontSize": 23, "labelColor": "#000000",
        "labelPadding": 13, "labelFlush": false, "labelOverlap": false,
        "labelExpr": "(datum.value < 0 ? '-' : '') + abs(datum.value)",
        "title": ["Displacement\u00a0 (mm)", "(c)"],
        "titleFont": "Liberation Serif", "titleFontSize": 24, "titleFontWeight": "normal", "titleColor": "#000000",
        "titleBaseline": "alphabetic", "titleY": 75, "titleLineHeight": 24
      }
    },
    "y": {
      "field": "v", "type": "quantitative",
      "scale": {"domain": [-1000, 1000], "nice": false, "zero": false},
      "axis": {
        "values": [-1000, -500, 0, 500, 1000],
        "grid": true, "gridColor": "#d4d4d4", "gridWidth": 1.5,
        "domainColor": "#000000", "domainWidth": 2,
        "tickColor": "#000000", "tickWidth": 2, "tickSize": 7,
        "labelFont": "Liberation Serif", "labelFontSize": 23, "labelColor": "#000000",
        "labelPadding": 16, "labelFlush": false, "labelOverlap": false,
        "labelExpr": "(datum.value < 0 ? '-' : '') + abs(datum.value)",
        "title": "Velosity (mm/s)",
        "titleFont": "Liberation Serif", "titleFontSize": 24, "titleFontWeight": "normal", "titleColor": "#000000",
        "titleAngle": -90, "titleAlign": "center", "titleBaseline": "alphabetic",
        "titleX": -71, "titleY": 138
      }
    },
    "detail": {"field": "k"},
    "order": {"value": null}
  }
}
